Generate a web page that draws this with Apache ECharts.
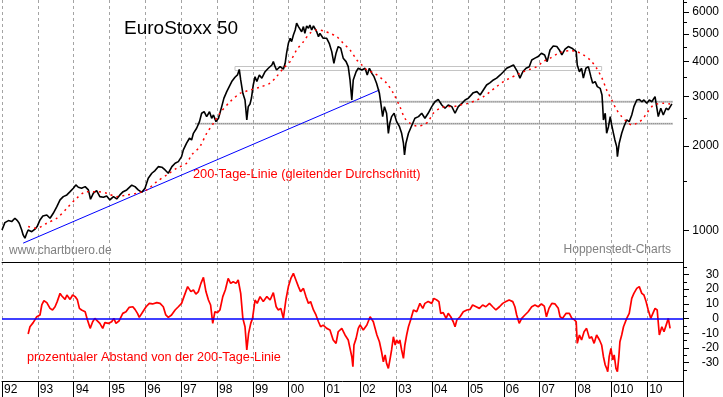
<!DOCTYPE html>
<html>
<head>
<meta charset="utf-8">
<title>EuroStoxx 50</title>
<script src="https://cdn.jsdelivr.net/npm/echarts@6/dist/echarts.min.js"></script>
<style>
html,body{margin:0;padding:0;background:#fff;}
#chart{width:723px;height:397px;}
</style>
</head>
<body>
<div id="chart"></div>
<script>
// Kurs EuroStoxx 50, [Jahr, Punkte]
var price = [
[1992.00,1004],[1992.08,1066],[1992.18,1084],[1992.27,1075],[1992.36,1105],[1992.43,1084],[1992.48,1061],[1992.55,1004],[1992.59,964],[1992.64,938],[1992.69,977],[1992.73,1004],[1992.83,990],[1992.92,1010],[1992.98,1032],
[1993.06,1090],[1993.14,1126],[1993.25,1135],[1993.34,1105],[1993.43,1151],[1993.53,1215],[1993.62,1284],[1993.71,1319],[1993.81,1338],[1993.90,1374],[1993.99,1413],
[1994.06,1452],[1994.13,1425],[1994.22,1413],[1994.32,1432],[1994.41,1394],[1994.47,1291],[1994.55,1357],[1994.64,1386],[1994.73,1319],[1994.83,1313],[1994.92,1327],
[1995.01,1284],[1995.11,1319],[1995.20,1295],[1995.29,1338],[1995.38,1374],[1995.48,1394],[1995.62,1449],[1995.71,1432],[1995.80,1394],[1995.90,1367],[1995.99,1413],
[1996.08,1534],[1996.18,1598],[1996.27,1633],[1996.36,1687],[1996.46,1679],[1996.55,1642],[1996.64,1598],[1996.74,1687],[1996.83,1735],[1996.92,1758],
[1997.01,1831],[1997.06,1935],[1997.15,2044],[1997.23,2129],[1997.29,2100],[1997.34,2217],[1997.43,2311],[1997.51,2440],[1997.57,2613],[1997.64,2646],[1997.71,2542],[1997.79,2646],[1997.85,2508],[1997.90,2577],[1997.97,2440],
[1998.04,2508],[1998.13,2759],[1998.19,2953],[1998.27,3120],[1998.34,3251],[1998.41,3388],[1998.45,3344],[1998.50,3510],[1998.57,3577],[1998.62,3741],[1998.66,3433],[1998.72,3077],[1998.78,2914],[1998.83,2474],[1998.87,2759],[1998.92,2820],[1998.96,2960],
[1999.01,3295],[1999.06,3527],[1999.11,3388],[1999.18,3577],[1999.25,3484],[1999.34,3673],[1999.43,3778],[1999.53,3882],[1999.57,3990],[1999.62,3828],[1999.66,3726],[1999.76,3828],[1999.85,3749],[1999.90,3936],[1999.94,4275],[1999.99,4637],
[2000.04,4831],[2000.08,4699],[2000.13,4965],[2000.18,5172],[2000.22,5468],[2000.27,5315],[2000.31,5389],[2000.36,5097],[2000.41,5315],[2000.45,5031],[2000.50,5346],[2000.55,5246],[2000.59,5389],[2000.64,5172],[2000.69,5346],[2000.73,5389],[2000.78,5097],[2000.83,4896],[2000.87,5031],[2000.96,4831],
[2001.06,4831],[2001.13,4637],[2001.20,4330],[2001.26,3936],[2001.32,4275],[2001.38,4514],[2001.45,4455],[2001.52,4105],[2001.60,3990],[2001.66,3828],[2001.71,3433],[2001.76,2914],[2001.80,3433],[2001.88,3673],[2001.94,3778],
[2002.04,3726],[2002.13,3778],[2002.19,3577],[2002.25,3778],[2002.32,3625],[2002.38,3527],[2002.45,3344],[2002.53,3077],[2002.57,2834],[2002.62,2542],[2002.67,2759],[2002.73,2613],[2002.78,2217],[2002.82,2408],[2002.87,2542],[2002.94,2613],
[2003.01,2440],[2003.09,2340],[2003.15,2217],[2003.20,2044],[2003.23,1857],[2003.27,2044],[2003.34,2217],[2003.40,2311],[2003.46,2408],[2003.52,2508],[2003.62,2542],[2003.71,2613],[2003.80,2508],[2003.89,2613],[2003.99,2759],
[2004.08,2871],[2004.17,2927],[2004.27,2797],[2004.36,2723],[2004.45,2797],[2004.55,2759],[2004.64,2613],[2004.73,2759],[2004.83,2834],[2004.92,2914],
[2005.01,2953],[2005.15,3094],[2005.25,3120],[2005.34,3036],[2005.43,3163],[2005.52,3295],[2005.62,3360],[2005.71,3433],[2005.80,3484],[2005.90,3577],[2005.99,3673],
[2006.08,3778],[2006.17,3828],[2006.27,3882],[2006.31,3904],[2006.38,3673],[2006.45,3484],[2006.53,3673],[2006.62,3778],[2006.71,3828],[2006.78,4045],[2006.87,4105],[2006.96,4159],
[2007.05,4275],[2007.14,4214],[2007.21,3990],[2007.29,4390],[2007.38,4535],[2007.48,4514],[2007.55,4390],[2007.62,4214],[2007.71,4418],[2007.80,4514],[2007.90,4455],[2007.96,4390],
[2008.02,4330],[2008.05,3882],[2008.11,3673],[2008.17,3778],[2008.22,3484],[2008.29,3778],[2008.36,3828],[2008.43,3527],[2008.48,3344],[2008.55,3388],[2008.61,3251],[2008.69,3205],[2008.74,3036],[2008.76,2759],[2008.78,2474],[2008.83,2613],[2008.87,2217],[2008.92,2340],[2008.97,2542],
[2009.01,2374],[2009.06,2217],[2009.10,2100],[2009.15,1988],[2009.17,1831],[2009.22,2044],[2009.29,2217],[2009.35,2340],[2009.43,2474],[2009.50,2440],[2009.57,2577],[2009.63,2759],[2009.71,2914],[2009.78,2927],[2009.85,2871],[2009.91,2914],[2009.99,2834],
[2010.06,2914],[2010.13,2871],[2010.22,2993],[2010.27,2953],[2010.31,2542],[2010.38,2723],[2010.45,2577],[2010.53,2723],[2010.59,2685],[2010.64,2723],[2010.69,2820]
];

// 200-Tage-Linie
var ma200 = [
[1992.73,1032],[1992.97,1018],[1993.25,1061],[1993.53,1105],[1993.81,1199],[1994.08,1302],[1994.36,1374],[1994.64,1374],[1994.92,1357],
[1995.20,1319],[1995.48,1338],[1995.76,1357],[1996.04,1394],[1996.32,1492],[1996.60,1576],[1996.87,1664],[1997.15,1735],[1997.29,1857],
[1997.52,1988],[1997.71,2217],[1997.90,2408],[1998.08,2613],[1998.36,2871],[1998.64,3077],[1998.78,3120],[1998.92,3163],[1999.20,3236],
[1999.48,3344],[1999.66,3527],[1999.85,3778],[2000.04,3990],[2000.22,4390],[2000.41,4699],[2000.59,5031],[2000.78,5172],[2000.96,5138],
[2001.15,5031],[2001.34,4896],[2001.52,4637],[2001.71,4390],[2001.90,4045],[2002.04,3882],[2002.18,3726],[2002.36,3644],[2002.55,3510],
[2002.73,3344],[2002.92,3077],[2003.10,2759],[2003.24,2508],[2003.38,2408],[2003.57,2355],[2003.76,2374],[2003.89,2440],[2004.03,2613],
[2004.22,2723],[2004.41,2759],[2004.59,2759],[2004.78,2797],[2005.01,2834],[2005.25,2914],[2005.43,2993],[2005.62,3120],[2005.80,3251],
[2005.99,3388],[2006.17,3484],[2006.36,3577],[2006.55,3673],[2006.73,3749],[2006.92,3828],[2007.10,3990],[2007.29,4105],[2007.48,4245],
[2007.66,4330],[2007.85,4365],[2008.04,4330],[2008.22,4214],[2008.41,4045],[2008.59,3778],[2008.74,3484],[2008.87,3163],[2009.01,2914],
[2009.15,2685],[2009.29,2542],[2009.43,2440],[2009.57,2374],[2009.71,2408],[2009.85,2474],[2009.99,2613],[2010.13,2759],[2010.27,2820],
[2010.45,2834],[2010.64,2820]
];

// prozentualer Abstand von der 200-Tage-Linie
var deviation = [
[1992.73,-10.5],[1992.78,-5.6],[1992.87,-2.8],[1992.92,-2.2],[1992.97,1.2],[1993.06,2.4],[1993.11,9.2],[1993.17,12.1],[1993.25,10.8],[1993.34,6.9],
[1993.41,5.8],[1993.48,8.0],[1993.54,11.5],[1993.62,17.1],[1993.67,15.3],[1993.76,13.0],[1993.81,16.0],[1993.90,13.0],[1993.97,16.0],[1994.04,14.9],
[1994.10,13.0],[1994.16,6.9],[1994.22,5.8],[1994.32,4.6],[1994.38,-0.6],[1994.46,-6.7],[1994.53,-2.2],[1994.59,0.1],[1994.64,-1.0],[1994.73,-3.3],
[1994.81,-6.7],[1994.87,-2.8],[1994.97,-3.3],[1995.06,-2.2],[1995.12,0.1],[1995.18,-3.3],[1995.27,-1.5],[1995.37,3.5],[1995.46,4.6],[1995.55,7.6],
[1995.65,8.0],[1995.71,6.2],[1995.78,3.5],[1995.83,0.8],[1995.93,4.6],[1996.02,8.0],[1996.11,10.3],[1996.20,9.9],[1996.32,10.8],[1996.41,10.3],
[1996.50,8.0],[1996.57,2.4],[1996.64,0.8],[1996.73,2.4],[1996.83,5.8],[1996.92,8.0],[1997.01,10.3],[1997.11,17.1],[1997.18,21.7],[1997.27,18.3],
[1997.34,19.4],[1997.41,16.6],[1997.48,18.3],[1997.55,23.9],[1997.62,28.0],[1997.69,18.3],[1997.76,12.6],[1997.82,9.2],[1997.88,-3.3],[1997.94,4.6],
[1998.01,4.0],[1998.08,5.8],[1998.16,14.9],[1998.23,19.4],[1998.31,27.3],[1998.38,23.9],[1998.45,25.0],[1998.53,23.9],[1998.59,26.2],[1998.66,17.1],
[1998.72,0.1],[1998.78,-5.6],[1998.83,-21.4],[1998.88,-10.1],[1998.94,-3.3],[1998.99,0.1],[1999.06,12.6],[1999.12,10.3],[1999.20,14.9],[1999.29,11.5],
[1999.39,14.9],[1999.48,12.6],[1999.57,17.6],[1999.65,8.0],[1999.71,5.8],[1999.78,6.9],[1999.85,0.1],[1999.92,12.6],[1999.99,21.7],[2000.06,27.3],
[2000.13,30.7],[2000.20,26.2],[2000.27,21.7],[2000.33,18.3],[2000.41,20.5],[2000.48,14.9],[2000.55,10.3],[2000.61,11.5],[2000.69,5.8],[2000.76,2.4],
[2000.83,-2.2],[2000.89,-5.6],[2000.96,-4.5],[2001.06,-6.7],[2001.15,-7.8],[2001.24,-14.6],[2001.32,-16.9],[2001.38,-9.0],[2001.48,-6.7],[2001.57,-11.2],
[2001.66,-14.6],[2001.71,-20.3],[2001.76,-26.0],[2001.79,-32.8],[2001.82,-18.0],[2001.88,-13.5],[2001.94,-6.7],[2001.99,-4.4],[2002.08,-7.8],[2002.18,-4.4],
[2002.27,1.2],[2002.36,-2.2],[2002.46,-11.2],[2002.53,-15.8],[2002.59,-22.6],[2002.64,-29.4],[2002.69,-24.8],[2002.73,-30.5],[2002.78,-33.9],[2002.83,-27.1],
[2002.87,-21.4],[2002.92,-12.4],[2002.97,-18.0],[2003.01,-14.6],[2003.06,-16.9],[2003.10,-14.6],[2003.15,-21.4],[2003.20,-27.1],[2003.24,-18.0],[2003.29,-11.2],
[2003.34,-5.6],[2003.40,-1.0],[2003.48,5.8],[2003.57,4.6],[2003.66,10.3],[2003.74,6.9],[2003.80,10.3],[2003.89,11.5],[2003.99,10.3],[2004.05,13.7],
[2004.13,12.6],[2004.19,11.5],[2004.24,3.5],[2004.31,4.0],[2004.39,0.1],[2004.45,3.5],[2004.52,1.2],[2004.59,-2.2],[2004.64,-5.6],[2004.69,-1.0],
[2004.78,1.2],[2004.87,4.6],[2004.97,5.8],[2005.06,6.2],[2005.13,9.2],[2005.23,8.0],[2005.32,6.9],[2005.41,9.2],[2005.50,8.0],[2005.60,10.3],
[2005.69,8.0],[2005.78,5.8],[2005.88,8.0],[2005.97,10.3],[2006.06,11.5],[2006.15,12.6],[2006.25,11.5],[2006.31,8.0],[2006.36,2.4],[2006.43,-3.3],
[2006.50,0.1],[2006.59,2.4],[2006.68,4.6],[2006.78,8.0],[2006.87,9.2],[2006.96,8.0],[2007.05,9.9],[2007.13,8.4],[2007.19,1.2],[2007.26,6.9],
[2007.34,10.3],[2007.43,9.9],[2007.52,6.9],[2007.57,1.2],[2007.64,0.1],[2007.74,3.5],[2007.83,3.5],[2007.90,0.1],[2007.96,-0.6],[2008.02,-2.2],
[2008.05,-16.9],[2008.11,-11.2],[2008.17,-14.6],[2008.24,-9.0],[2008.31,-6.7],[2008.39,-13.5],[2008.45,-12.4],[2008.52,-16.9],[2008.59,-11.2],[2008.67,-14.6],
[2008.73,-18.0],[2008.78,-26.0],[2008.83,-31.6],[2008.87,-33.9],[2008.90,-36.2],[2008.94,-26.0],[2008.99,-20.3],[2009.04,-28.2],[2009.08,-24.8],[2009.13,-33.9],
[2009.17,-36.2],[2009.21,-26.0],[2009.24,-15.8],[2009.29,-11.2],[2009.34,-5.6],[2009.43,0.1],[2009.50,3.5],[2009.57,13.7],[2009.63,17.1],[2009.71,20.5],
[2009.78,21.7],[2009.85,17.1],[2009.91,16.0],[2009.97,11.5],[2010.03,5.8],[2010.10,0.1],[2010.16,3.5],[2010.22,6.9],[2010.28,5.8],[2010.34,-11.2],
[2010.41,-5.6],[2010.47,-9.0],[2010.53,-4.5],[2010.59,0.1],[2010.64,-6.7]
];

// Trendlinie und Unterstuetzungen
var trendLine = [[1992.59, 901], [2002.53, 3162]];
var boxYears = [1998.50, 2008.73];
var boxLevels = [3710, 3833];
var supportStart = [2001.41, 1997.39];
var supportEnd = [2010.72, 2010.72];
var supportLevels = [2870, 2400];

// Achsenbeschriftung
var yearLabels = ['92','93','94','95','96','97','98','99','00','01','02','03','04','05','06','07','08','010','10',''];
var priceTicks = [1000, 2000, 3000, 4000, 5000, 6000];
var priceMinorTicks = [1500, 2500, 3500, 4500, 5500, 6500];
var devTicks = [-30, -20, -10, 0, 10, 20, 30];
var devMinorTicks = [-35, -25, -15, -5, 5, 15, 25, 35];

var FONT = '"Liberation Sans", Arial, sans-serif';
var gridColor = '#a4a4a4';

function xAxisBase(grid, showLabels) {
	return {
		gridIndex: grid,
		type: 'value',
		min: 1992,
		max: 2011,
		interval: 1,
		axisLine: { show: true, onZero: false, lineStyle: { color: '#000', width: 1 } },
		axisTick: { show: showLabels, length: 16, lineStyle: { color: '#000' } },
		axisLabel: {
			show: showLabels,
			align: 'left',
			margin: 3,
			padding: [0, 0, 0, 2],
			color: '#000',
			fontSize: 12,
			fontFamily: FONT,
			formatter: function (v) {
				return yearLabels[Math.round(v - 1992)] || '';
			}
		},
		splitLine: { show: true, lineStyle: { color: gridColor, type: [3, 3] } }
	};
}

function yAxisBase(grid, type, min, max, ticks, tickLen, labels) {
	return {
		gridIndex: grid,
		type: type,
		position: 'right',
		min: min,
		max: max,
		axisLine: { show: !!labels, onZero: false, lineStyle: { color: '#000', width: 1 } },
		axisTick: { show: true, length: tickLen, customValues: ticks, lineStyle: { color: '#000' } },
		axisLabel: {
			show: !!labels,
			customValues: ticks,
			align: 'right',
			margin: 36,
			color: '#000',
			fontSize: 12,
			fontFamily: FONT,
			formatter: function (v) { return String(Math.round(v)); }
		},
		splitLine: { show: false }
	};
}

// graue Unterstuetzungslinien (hell unterlegt, dunkel gepunktet)
var supportSeries = [];
for (var i = 0; i < supportLevels.length; i++) {
	var seg = [[supportStart[i], supportLevels[i]], [supportEnd[i], supportLevels[i]]];
	supportSeries.push({
		type: 'line', xAxisIndex: 0, yAxisIndex: 0, data: seg, showSymbol: false, silent: true,
		lineStyle: { color: '#c8c8c8', width: 2 }, z: 1
	});
	supportSeries.push({
		type: 'line', xAxisIndex: 0, yAxisIndex: 0, data: seg, showSymbol: false, silent: true,
		lineStyle: { color: '#808080', width: 1, type: [1, 1] }, z: 1
	});
}

var dom = document.getElementById('chart');
var myChart = echarts.init(dom, null, { renderer: 'canvas' });
var option = {
	animation: false,
	backgroundColor: '#fff',
	title: {
		text: 'EuroStoxx 50',
		left: 124,
		top: 19,
		padding: 0,
		textStyle: { fontSize: 19, fontWeight: 'normal', color: '#000', fontFamily: FONT }
	},
	grid: [
		{ left: 2, right: 40, top: 0, height: 262 },
		{ left: 2, right: 40, top: 262, height: 119 }
	],
	xAxis: [xAxisBase(0, false), xAxisBase(1, true)],
	yAxis: [
		yAxisBase(0, 'log', 772, 6612, priceTicks, 6, true),
		yAxisBase(0, 'log', 772, 6612, priceMinorTicks, 4, false),
		yAxisBase(1, 'value', -42.5, 38.44, devTicks, 6, true),
		yAxisBase(1, 'value', -42.5, 38.44, devMinorTicks, 4, false)
	],
	graphic: [
		{ type: 'text', left: 9, top: 245, style: { text: 'www.chartbuero.de', fill: '#808080', font: '12px ' + FONT } },
		{ type: 'text', right: 52, top: 244, style: { text: 'Hoppenstedt-Charts', fill: '#808080', font: '12px ' + FONT } },
		{ type: 'text', left: 193, top: 168, style: { text: '200-Tage-Linie (gleitender Durchschnitt)', fill: '#ff0000', font: '12.8px ' + FONT } },
		{ type: 'text', left: 27, top: 351, style: { text: 'prozentualer Abstand von der 200-Tage-Linie', fill: '#ff0000', font: '12.7px ' + FONT } }
	],
	series: supportSeries.concat([
		{
			name: 'Widerstand',
			type: 'line', xAxisIndex: 0, yAxisIndex: 0, data: [], silent: true,
			markArea: {
				silent: true,
				itemStyle: { color: 'rgba(0,0,0,0)', borderColor: '#c4c4c4', borderWidth: 1 },
				data: [[{ xAxis: boxYears[0], yAxis: boxLevels[0] }, { xAxis: boxYears[1], yAxis: boxLevels[1] }]]
			}
		},
		{
			name: 'Trend',
			type: 'line', xAxisIndex: 0, yAxisIndex: 0, data: trendLine, showSymbol: false,
			lineStyle: { color: '#0000ff', width: 1 }, z: 2
		},
		{
			name: 'EuroStoxx 50',
			type: 'line', xAxisIndex: 0, yAxisIndex: 0, data: price, showSymbol: false,
			lineStyle: { color: '#000', width: 1.6 }, z: 3
		},
		{
			name: '200-Tage-Linie',
			type: 'line', xAxisIndex: 0, yAxisIndex: 0, data: ma200, showSymbol: false, smooth: 0.3,
			lineStyle: { color: '#ff0000', width: 1.5, type: [2, 4] }, z: 4
		},
		{
			name: 'Abstand',
			type: 'line', xAxisIndex: 1, yAxisIndex: 2, data: deviation, showSymbol: false,
			lineStyle: { color: '#ff0000', width: 1.7 }, z: 3,
			markLine: {
				silent: true, symbol: 'none', label: { show: false },
				lineStyle: { color: '#0000ff', width: 1.5, type: 'solid' },
				data: [{ yAxis: 0 }]
			}
		}
	])
};
myChart.setOption(option, true);
</script>
</body>
</html>
